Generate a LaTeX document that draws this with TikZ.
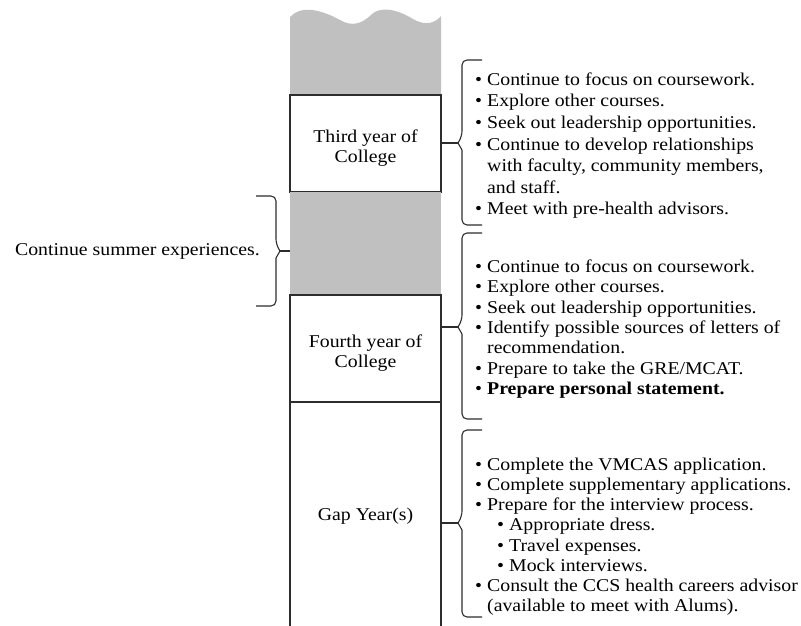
\documentclass[tikz,border=0pt]{standalone}
\usepackage{fontspec}
\setmainfont{Liberation Serif}[FakeStretch=1.1]
\usetikzlibrary{positioning}

\definecolor{bandgray}{RGB}{192,192,192}
\definecolor{edgegray}{RGB}{45,45,45}

\newcommand{\bul}{\makebox[12pt][l]{\textbullet}}
\newcommand{\cont}{\hspace*{12pt}}
\newcommand{\subbul}{\hspace*{22pt}\bul}
\newcommand{\firstline}{\rule{0pt}{14pt}}
\newcommand{\boxline}{\rule{0pt}{22pt}}

% brace: x of the stem, top, bottom, tip y, side (1 = opens right), tip name
\newcommand{\yearbrace}[6]{%
  \draw[bracket] ({#1+#5*20},#2) -- (#1,#2) -- (#1,{#4-7})
    [sharp corners] -- ({#1-#5*4},#4) -- (#1,{#4+7})
    [rounded corners=5pt] -- (#1,#3) -- ({#1+#5*20},#3);
  \coordinate (#6) at ({#1-#5*4},#4);
}

\tikzset{
  yearbox/.style={draw=edgegray, line width=1.2pt, fill=white,
    minimum width=151pt, inner sep=0pt, align=center,
    font=\fontsize{18}{20.5}\selectfont},
  summerband/.style={fill=bandgray, minimum width=151pt, inner sep=0pt},
  bracket/.style={draw=edgegray, line width=1.1pt, rounded corners=5pt},
  todolist/.style={anchor=north west, inner sep=0pt, align=left}
}

\begin{document}
\begin{tikzpicture}[x=1pt,y=-1pt]
\useasboundingbox (0,0) rectangle (801,626);

% the column
\fill[bandgray] (290,95) -- (290,17) .. controls (300,6) and (318,8) .. (340,20)
  .. controls (352,27) and (362,24) .. (372,14) .. controls (380,7) and (395,8) .. (413,19)
  .. controls (427,27) and (436,22) .. (441,16) -- (441,95) -- cycle;
\node[yearbox, minimum height=97pt] (third) at (365.5,143.5) {\boxline Third year of\\College};
\node[summerband, minimum height=103pt] (summer) at (365.5,243.5) {};
\node[yearbox, minimum height=107pt] (fourth) at (365.5,348.5) {\boxline Fourth year of\\College};
\node[yearbox, minimum height=225pt, text depth=-6pt] (gap) at (365.5,514.5) {Gap Year(s)};

% summer
\yearbrace{276}{196}{306}{251}{-1}{tipsummer}
\draw[bracket] (summer.west |- tipsummer) -- (tipsummer);
\node[anchor=base east, inner sep=0pt, font=\fontsize{18}{20.5}\selectfont] (summertext) at (260,255) {Continue summer experiences.};

% third year
\yearbrace{462}{60}{225}{143}{1}{tipthird}
\draw[bracket] (third.east |- tipthird) -- (tipthird);
\node[todolist, font=\fontsize{18}{21.6}\selectfont] (thirdlist) at (475,71) {%
\firstline\bul Continue to focus on coursework.\\
\bul Explore other courses.\\
\bul Seek out leadership opportunities.\\
\bul Continue to develop relationships\\
\cont with faculty, community members,\\
\cont and staff.\\
\bul Meet with pre-health advisors.};

% fourth year
\yearbrace{462}{233}{419}{327}{1}{tipfourth}
\draw[bracket] (fourth.east |- tipfourth) -- (tipfourth);
\node[todolist, font=\fontsize{18}{20.4}\selectfont] (fourthlist) at (475,258) {%
\firstline\bul Continue to focus on coursework.\\
\bul Explore other courses.\\
\bul Seek out leadership opportunities.\\
\bul Identify possible sources of letters of\\
\cont recommendation.\\
\bul Prepare to take the GRE/MCAT.\\
\bul\textbf{Prepare personal statement.}};

% gap year
\yearbrace{462}{430}{617}{523}{1}{tipgap}
\draw[bracket] (gap.east |- tipgap) -- (tipgap);
\node[todolist, font=\fontsize{18}{20.2}\selectfont] (gaplist) at (475,456) {%
\firstline\bul Complete the VMCAS application.\\
\bul Complete supplementary applications.\\
\bul Prepare for the interview process.\\
\subbul Appropriate dress.\\
\subbul Travel expenses.\\
\subbul Mock interviews.\\
\bul Consult the CCS health careers advisor\\
\cont (available to meet with Alums).};
\end{tikzpicture}
\end{document}
